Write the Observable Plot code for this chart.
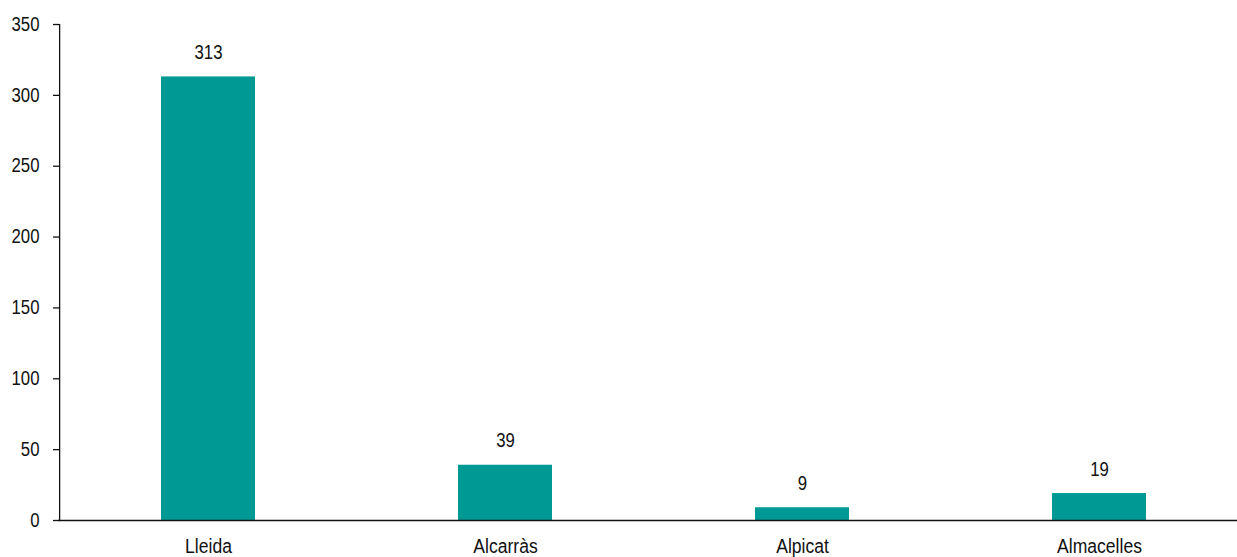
<!DOCTYPE html>
<html>
<head>
<meta charset="utf-8">
<script src="https://cdn.jsdelivr.net/npm/d3@7"></script>
<script src="https://cdn.jsdelivr.net/npm/@observablehq/plot@0.6"></script>
<style>
  html, body { margin: 0; padding: 0; background: #fff; overflow: hidden; }
  #chart svg { display: block; overflow: visible; }
</style>
</head>
<body>
<div id="chart"></div>
<script>
const municipalities = ["Lleida", "Alcarràs", "Alpicat", "Almacelles"];
const counts = [313, 39, 9, 19];
const yTicks = [0, 50, 100, 150, 200, 250, 300, 350];

const rows = municipalities.map((name, i) => ({name, value: counts[i]}));

const font = "'Liberation Sans', Arial, sans-serif";
const teal = "#009994";
const ink = "#111";

const width = 1237;
const marginLeft = 58;
const marginRight = -12;
const paddingInner = 0.685;
const paddingOuter = 0.3425;
const tickLength = 6;

// Band geometry of the x scale, used to hang the axis line and ticks off the first band.
const step = (width - marginRight - marginLeft) / municipalities.length;
const bandwidth = step * (1 - paddingInner);
const firstBandStart = marginLeft + step * paddingOuter;

const chart = Plot.plot({
  width,
  height: 557,
  marginLeft,
  marginRight,
  marginTop: 24,
  marginBottom: 37,
  style: {fontFamily: font, fontSize: "19.5px", color: ink, background: "#fff"},
  x: {domain: municipalities, paddingInner, paddingOuter, label: null},
  y: {domain: [0, 350], label: null},
  marks: [
    Plot.barY(rows, {x: "name", y: "value", fill: teal}),
    Plot.text(rows, {x: "name", y: "value", text: d => String(d.value), dy: -24, fontSize: 19.5, fill: ink}),
    Plot.axisX({tickSize: 0, tickPadding: 19, fontSize: 19.5, label: null}),
    Plot.axisY({ticks: yTicks, tickSize: 0, tickPadding: tickLength + 13, fontSize: 19.5, label: null}),
    // outward y ticks, just left of the axis line
    Plot.tickY(yTicks, {
      x: () => municipalities[0],
      y: d => d,
      dx: marginLeft - tickLength - firstBandStart,
      insetRight: bandwidth - tickLength,
      stroke: ink,
      strokeWidth: 1.3
    }),
    // vertical axis line along the left edge of the plot area
    Plot.ruleX([municipalities[0]], {x: d => d, y1: 0, y2: 350, dx: -step / 2, stroke: ink, strokeWidth: 1.3}),
    Plot.ruleY([0], {stroke: ink, strokeWidth: 1.3})
  ]
});

document.getElementById("chart").appendChild(chart);

// Slightly condensed lettering: numbers a bit narrower than words.
chart.querySelectorAll("text").forEach(t => {
  const s = t.textContent;
  const len = t.getComputedTextLength();
  if (!len) return;
  const k = /^\d+$/.test(s) ? 0.86 : 0.9;
  t.setAttribute("textLength", (len * k).toFixed(2));
  t.setAttribute("lengthAdjust", "spacingAndGlyphs");
});
</script>
</body>
</html>
